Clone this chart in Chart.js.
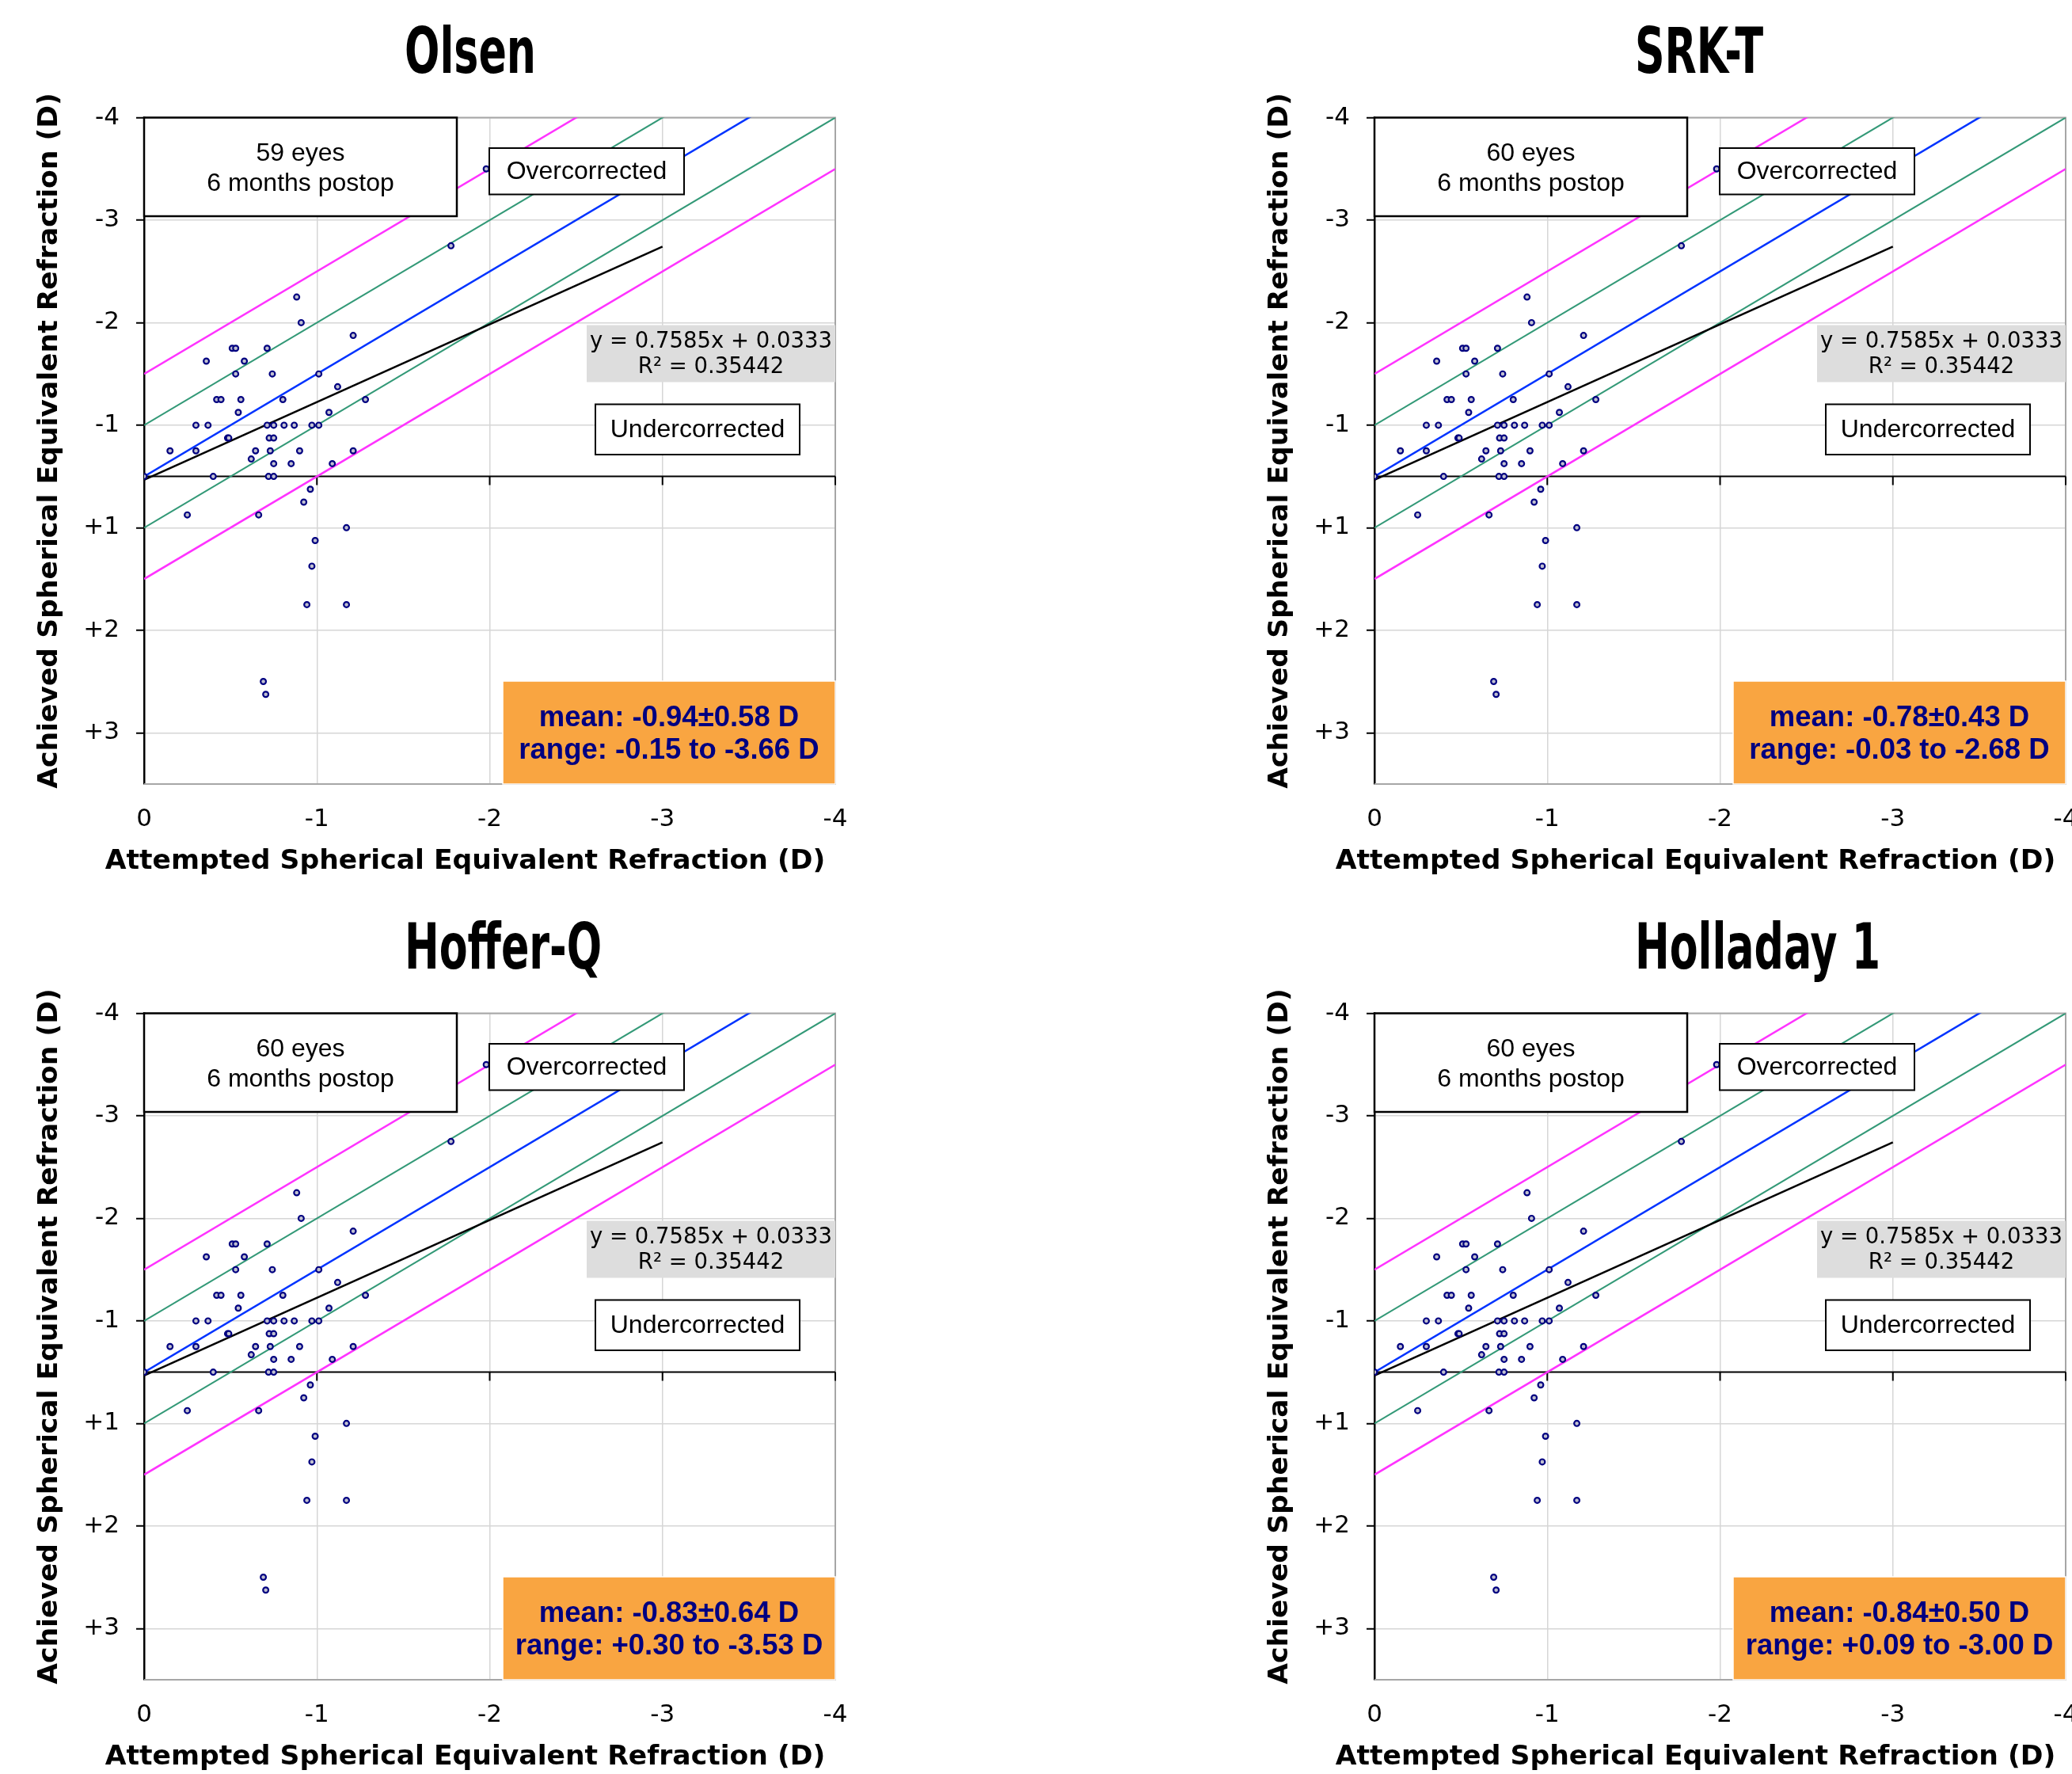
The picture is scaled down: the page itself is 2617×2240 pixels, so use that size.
<!DOCTYPE html>
<html>
<head>
<meta charset="utf-8">
<title>Predicted vs achieved refraction</title>
<script src="https://cdn.jsdelivr.net/npm/chart.js@4.4.1/dist/chart.umd.min.js"></script>
<style>
  html, body { margin: 0; padding: 0; background: #fff; overflow: hidden; width: 2617px; height: 2240px; }
  canvas { position: absolute; }
</style>
</head>
<body>
<canvas id="c0" width="1100" height="1131" style="left:0px;top:0px"></canvas>
<canvas id="c1" width="1100" height="1131" style="left:1554px;top:0px"></canvas>
<canvas id="c2" width="1100" height="1131" style="left:0px;top:1131px"></canvas>
<canvas id="c3" width="1100" height="1131" style="left:1554px;top:1131px"></canvas>
<script>
// one panel per formula, same eyes plotted in each
const panelTitles = ["Olsen", "SRK-T", "Hoffer-Q", "Holladay 1"];
const eyeCounts = [59, 60, 60, 60];
const meanLabels = ["mean: -0.94±0.58 D", "mean: -0.78±0.43 D", "mean: -0.83±0.64 D", "mean: -0.84±0.50 D"];
const rangeLabels = ["range: -0.15 to -3.66 D", "range: -0.03 to -2.68 D", "range: +0.30 to -3.53 D", "range: +0.09 to -3.00 D"];

// attempted (x) and achieved (y) spherical equivalent, D
const attempted = [0, -0.15, -0.30, -0.37, -0.30, -0.40, -0.25, -0.36, -0.42, -0.445,
  -0.51, -0.53, -0.53, -0.58, -0.545, -0.56, -0.483, -0.49, -0.62, -0.645,
  -0.663, -0.712, -0.742, -0.712, -0.75, -0.724, -0.75, -0.73, -0.75, -0.72,
  -0.75, -0.69, -0.704, -0.803, -0.81, -0.869, -0.851, -0.883, -0.909, -0.90,
  -0.924, -0.962, -0.971, -1.011, -1.011, -0.99, -0.971, -0.942, -1.07, -1.089,
  -1.12, -1.171, -1.171, -1.21, -1.21, -1.281, -1.776, -1.98];
const achieved = [0, -0.25, -0.5, -0.5, -0.25, 0, 0.375, -1.125, -0.75, -0.75,
  -1.25, -1.25, -1.0, -1.125, -0.625, -0.75, -0.375, -0.375, -0.17, -0.25,
  0.375, -1.25, -1.0, -0.5, -0.5, -0.375, -0.375, -0.25, -0.125, 0,
  0, 2.0, 2.125, -0.75, -0.5, -0.5, -0.125, -1.75, -1.5, -0.25,
  0.25, 0.125, -0.5, -0.5, -1.0, 0.625, 0.875, 1.25, -0.625, -0.125,
  -0.875, 0.5, 1.25, -1.375, -0.25, -0.75, -2.25, -3.0];

const xTicks = [0, -1, -2, -3, -4];
const yTickValues = [-3.5, -2.5, -1.5, -0.5, 0.5, 1.5, 2.5];
const yTickLabels = ["-4", "-3", "-2", "-1", "+1", "+2", "+3"];
const yMin = -3.5, yMax = 3;

// y = x + offset reference lines (±0.5 D and ±1 D bands)
const refOffsets = [-1, -0.5, 0, 0.5, 1];
const refColors = ["#ff33ff", "#339977", "#0033ff", "#339977", "#ff33ff"];

// linear trend as printed on the chart
const trendSlope = 0.7585;
const trendIntercept = 0.0333;
const trendRange = [0, -3];
const trendText = ["y = 0.7585x + 0.0333", "R\u00b2 = 0.35442"];

const ARIAL = '"Liberation Sans", Arial, sans-serif';
const VERDANA = '"DejaVu Sans", Verdana, sans-serif';

function text(ctx, str, x, y, font, color, sx, align) {
  ctx.save();
  ctx.font = font;
  ctx.fillStyle = color;
  ctx.textAlign = align || "center";
  ctx.textBaseline = "middle";
  ctx.translate(x, y);
  ctx.scale(sx || 1, 1);
  ctx.fillText(str, 0, 0);
  ctx.restore();
}

// box corners are relative to the plot area: [x0, y0, x1, y1]
function box(ctx, a, r, fill, stroke, lw) {
  const x0 = a.left + r[0], y0 = a.top + r[1];
  const w = r[2] - r[0], h = r[3] - r[1];
  if (fill) { ctx.fillStyle = fill; ctx.fillRect(x0, y0, w, h); }
  if (stroke) { ctx.strokeStyle = stroke; ctx.lineWidth = lw; ctx.strokeRect(x0, y0, w, h); }
}

const decor = {
  id: "decor",
  beforeDatasetsDraw(chart) {
    const { ctx, chartArea: a, scales } = chart;
    ctx.save();
    // grey frame on the three sides without an axis
    ctx.strokeStyle = "#a6a6a6";
    ctx.lineWidth = 2;
    ctx.beginPath();
    ctx.moveTo(a.left, a.top);
    ctx.lineTo(a.right, a.top);
    ctx.lineTo(a.right, a.bottom);
    ctx.lineTo(a.left, a.bottom);
    ctx.stroke();
    // x axis crosses at y = 0, ticks hang below it
    const y0 = scales.y.getPixelForValue(0);
    ctx.strokeStyle = "#000";
    ctx.lineWidth = 2;
    ctx.beginPath();
    ctx.moveTo(a.left, y0);
    ctx.lineTo(a.right, y0);
    xTicks.forEach(function (v) {
      if (v === 0) return;
      const px = scales.x.getPixelForValue(v);
      ctx.moveTo(px, y0);
      ctx.lineTo(px, y0 + 11);
    });
    ctx.stroke();
    ctx.restore();
  },
  afterDatasetsDraw(chart, args, opts) {
    const { ctx, chartArea: a } = chart;
    const i = opts.panel;
    const cx = function (r) { return a.left + (r[0] + r[2]) / 2; };
    ctx.save();

    const eyes = [0, 0, 395, 124.5];
    box(ctx, a, eyes, "#fff", "#000", 2.5);
    text(ctx, eyeCounts[i] + " eyes", cx(eyes), a.top + 45.5, "32px " + ARIAL, "#000");
    text(ctx, "6 months postop", cx(eyes), a.top + 83.5, "32px " + ARIAL, "#000");

    const over = [436, 38.5, 682, 97];
    box(ctx, a, over, "#fff", "#000", 2);
    text(ctx, "Overcorrected", cx(over), a.top + 69, "32px " + ARIAL, "#000");

    const eq = [559, 262, 873, 334];
    box(ctx, a, eq, "#dddddd", null, 0);
    text(ctx, trendText[0], cx(eq), a.top + 283, "27.5px " + VERDANA, "#000");
    text(ctx, trendText[1], cx(eq), a.top + 315, "27.5px " + VERDANA, "#000");

    const under = [570, 362, 828, 425.5];
    box(ctx, a, under, "#fff", "#000", 2);
    text(ctx, "Undercorrected", cx(under), a.top + 394.5, "32px " + ARIAL, "#000");

    const stat = [453, 711.5, 873, 841.5];
    box(ctx, a, stat, "#f9a541", "#fff", 1.5);
    text(ctx, meanLabels[i], cx(stat), a.top + 758, "bold 36.5px " + ARIAL, "#000080");
    text(ctx, rangeLabels[i], cx(stat), a.top + 799, "bold 36.5px " + ARIAL, "#000080");
    ctx.restore();
  },
  afterDraw(chart, args, opts) {
    const { ctx, chartArea: a } = chart;
    ctx.save();
    // condensed heading, squeezed so "Olsen" spans the same width as in the original
    const tFont = 'bold 80px "Liberation Sans Narrow", "DejaVu Sans Condensed", sans-serif';
    ctx.font = tFont;
    const sx = 166 / ctx.measureText("Olsen").width;
    ctx.textBaseline = "alphabetic";
    ctx.textAlign = "left";
    ctx.fillStyle = "#000";
    ctx.translate(511, 92);
    ctx.scale(sx, 1);
    ctx.fillText(panelTitles[opts.panel], 0, 0);
    ctx.restore();

    text(ctx, "Attempted Spherical Equivalent Refraction (D)", a.left + 405.5, a.bottom + 98,
      "bold 34.6px " + VERDANA, "#000");
    ctx.save();
    ctx.translate(a.left - 118.5, a.top + 408);
    ctx.rotate(-Math.PI / 2);
    text(ctx, "Achieved Spherical Equivalent Refraction (D)", 0, 0, "bold 34.6px " + VERDANA, "#000");
    ctx.restore();
  }
};

function makePanel(i) {
  const points = attempted.map(function (v, k) { return { x: v, y: achieved[k] }; });
  const trend = trendRange.map(function (v) { return { x: v, y: trendSlope * v + trendIntercept }; });
  const refs = refOffsets.map(function (off, k) {
    return {
      data: [xTicks[0], xTicks[xTicks.length - 1]].map(function (v) { return { x: v, y: v + off }; }),
      showLine: true,
      borderColor: refColors[k],
      borderWidth: k === 1 || k === 3 ? 2.1 : 2.5,
      pointRadius: 0
    };
  });

  return new Chart(document.getElementById("c" + i), {
    type: "scatter",
    data: {
      datasets: [
        {
          data: points,
          showLine: false,
          pointRadius: 3.4,
          pointBorderWidth: 2.2,
          pointBorderColor: "#000080",
          pointBackgroundColor: "#c0c0d0"
        },
        { data: trend, showLine: true, borderColor: "#000", borderWidth: 2.6, pointRadius: 0 }
      ].concat(refs)
    },
    options: {
      responsive: false,
      animation: false,
      events: [],
      layout: { padding: { top: 148.5, right: 45, bottom: 0, left: 0 } },
      plugins: {
        legend: { display: false },
        tooltip: { enabled: false },
        decor: { panel: i }
      },
      scales: {
        x: {
          type: "linear",
          min: -4,
          max: 0,
          reverse: true,
          afterBuildTicks: function (s) { s.ticks = xTicks.map(function (v) { return { value: v }; }); },
          afterFit: function (s) { s.height = 141; s.paddingLeft = 0; s.paddingRight = 0; },
          ticks: {
            color: "#000",
            padding: 26,
            maxRotation: 0,
            font: { family: "DejaVu Sans", size: 31 },
            callback: function (v) { return String(v); }
          },
          grid: { color: "#d6d6d6", lineWidth: 1.5, drawTicks: false },
          border: { display: false }
        },
        y: {
          type: "linear",
          min: yMin,
          max: yMax,
          reverse: true,
          afterBuildTicks: function (s) { s.ticks = yTickValues.map(function (v) { return { value: v }; }); },
          afterFit: function (s) { s.width = 182; },
          ticks: {
            color: "#000",
            padding: 21,
            font: { family: "DejaVu Sans", size: 31 },
            callback: function (v) { return yTickLabels[yTickValues.indexOf(v)]; }
          },
          grid: { color: "#d6d6d6", lineWidth: 1.5, tickLength: 10, tickColor: "#000", tickWidth: 2 },
          border: { display: true, color: "#000", width: 2.5 }
        }
      }
    },
    plugins: [decor]
  });
}

[0, 1, 2, 3].forEach(makePanel);
</script>
</body>
</html>
